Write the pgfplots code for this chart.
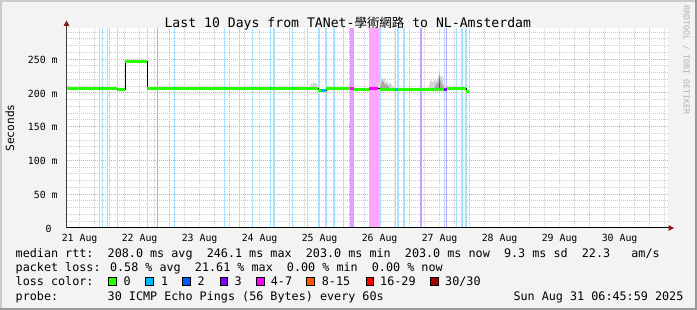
\documentclass[border=0pt]{standalone}
\usepackage{pgfplots}
\pgfplotsset{compat=1.18}
\usepackage{fontspec}
\setmainfont{DejaVu Sans Mono}
\newfontfamily\cjk{Noto Sans CJK TC}
\definecolor{bg}{HTML}{F3F3F3}
\definecolor{shadea}{HTML}{CBCBCB}
\definecolor{shadeb}{HTML}{999999}
\definecolor{arrowc}{HTML}{8B1A1A}
\definecolor{mgrid}{HTML}{EBA0A0}
\definecolor{mingrid}{HTML}{CDCDCD}
\definecolor{loss0}{HTML}{26FF00}
\definecolor{loss1}{HTML}{00B8FF}
\definecolor{loss2}{HTML}{0059FF}
\definecolor{loss3}{HTML}{7E00FF}
\definecolor{loss4}{HTML}{FF00FF}
\definecolor{loss8}{HTML}{FF5500}
\definecolor{loss16}{HTML}{FF0000}
\definecolor{loss30}{HTML}{A10000}
\definecolor{bgone}{HTML}{A6E2FF}
\definecolor{bgtwo}{HTML}{99AAFF}
\definecolor{bgthree}{HTML}{C8A0FF}
\definecolor{bgviolet}{HTML}{E0A0FF}
\definecolor{bgfour}{HTML}{FFA6FF}
\definecolor{smokel}{HTML}{D4D4D4}
\definecolor{smokem}{HTML}{A8A8A8}
\definecolor{smoked}{HTML}{555555}
\begin{document}
\begin{tikzpicture}
\path[use as bounding box, fill=bg] (0bp,0bp) rectangle (697bp,310bp);
\fill[shadea] (0bp,308bp) rectangle (697bp,310bp);
\fill[shadea] (0bp,0bp) rectangle (2bp,310bp);
\fill[shadeb] (0bp,0bp) rectangle (697bp,2bp);
\fill[shadeb] (695bp,0bp) rectangle (697bp,310bp);
\begin{axis}[
  at={(66.5bp,82bp)}, anchor=south west,
  scale only axis, width=601bp, height=200bp,
  xmin=0.2819, xmax=10.2986, ymin=0, ymax=296,
  axis line style={draw=none},
  axis background/.style={fill=white},
  major tick length=0pt, minor tick length=0pt,
  xtick={1,2,3,4,5,6,7,8,9,10},
  xticklabels={21 Aug,22 Aug,23 Aug,24 Aug,25 Aug,26 Aug,27 Aug,28 Aug,29 Aug,30 Aug},
  minor xtick={0.5,0.75,1.25,1.5,1.75,2.25,2.5,2.75,3.25,3.5,3.75,4.25,4.5,4.75,5.25,5.5,5.75,6.25,6.5,6.75,7.25,7.5,7.75,8.25,8.5,8.75,9.25,9.5,9.75,10.25},
  ytick={0,50,100,150,200,250},
  yticklabels={0~~,50 m,100 m,150 m,200 m,250 m},
  minor ytick={10,20,30,40,60,70,80,90,110,120,130,140,160,170,180,190,210,220,230,240,260,270,280,290},
  grid=both,
  major grid style={mgrid, line width=1bp, dash pattern=on 1bp off 1bp},
  minor grid style={mingrid, line width=1bp, dash pattern=on 1bp off 1bp},
  xticklabel style={font=\fontsize{9.9}{11}\selectfont, anchor=base, inner sep=0pt, xshift=-30bp, yshift=-13.7bp},
  yticklabel style={font=\fontsize{9.9}{11}\selectfont, anchor=base east, inner sep=0pt, xshift=-8.7bp, yshift=-4.2bp},
  unbounded coords=jump,
]
% loss background lines
\addplot[ycomb, mark=none, draw=bgone, line width=1.2bp] coordinates {
 (0.8286,296)(0.8786,296)(0.9619,296)(1.1286,296)(1.6286,296)(2.0786,296)
 (2.9119,296)(3.1619,296)(3.3786,296)(3.6853,296)(3.7403,296)(4.0519,296)
 (4.2953,296)(4.4903,296)(4.7403,296)(4.8953,296)(5.5069,296)
 (5.7653,296)(5.8069,296)(5.9069,296)(6.5819,296)(6.7853,296)(6.8736,296)(6.9403,296)};
\addplot[ycomb, mark=none, draw=bgone, line width=2bp] coordinates {(4.6069,296)};
\addplot[ycomb, mark=none, draw=bgtwo, line width=1.2bp] coordinates {(1.7953,296)};
\addplot[ycomb, mark=none, draw=bgthree, line width=1.3bp] coordinates {(6.1903,296)(6.6103,296)};
\addplot[ycomb, mark=none, draw=bgviolet, line width=4bp] coordinates {(5.0403,296)};
\addplot[ycomb, mark=none, draw=bgfour, line width=10.3bp] coordinates {(5.4094,296)};
% smoke
\addplot[fill=smokel, draw=none] coordinates {(0.30,207)(0.31,212)(0.33,209)(0.34,207)} -- cycle;
\addplot[fill=smokel, draw=none] coordinates {(4.31,206)(4.33,210)(4.36,214)(4.38,212)(4.40,217)(4.42,213)(4.45,215)(4.47,210)(4.50,208)(4.50,205)} -- cycle;
\addplot[fill=smokel, draw=none] coordinates {(5.45,206)(5.46,218)(5.48,213)(5.50,222)(5.52,215)(5.54,226)(5.56,216)(5.58,223)(5.60,214)(5.62,219)(5.65,212)(5.68,216)(5.71,210)(5.73,208)(5.73,205)} -- cycle;
\addplot[fill=smokem, draw=none] coordinates {(5.50,206)(5.53,214)(5.55,219)(5.58,213)(5.62,212)(5.66,209)(5.66,206)} -- cycle;
\addplot[fill=smokel, draw=none] coordinates {(6.31,206)(6.33,214)(6.36,219)(6.39,215)(6.42,220)(6.45,217)(6.48,224)(6.50,231)(6.52,222)(6.55,226)(6.57,214)(6.60,211)(6.62,206)} -- cycle;
\addplot[fill=smokem, draw=none] coordinates {(6.40,206)(6.44,212)(6.48,216)(6.50,222)(6.53,215)(6.56,210)(6.58,206)} -- cycle;
\addplot[fill=smoked, draw=none] coordinates {(6.492,207)(6.50,231)(6.508,207)} -- cycle;
% median (transitions)
\addplot[const plot, mark=none, black, line width=1bp] coordinates {
 (0.2819,207)(1.1236,205.5)(1.2569,246)(1.6236,207)(4.4736,203)(4.6069,207)
 (5.0736,205.5)(5.3236,207)(5.5069,205.5)(6.6153,206)(6.9403,202)(6.9903,202)};
\addplot[mark=none, loss0, line width=2.8bp] coordinates {
 (0.2819,207)(1.1236,207)(1.1236,nan)
 (1.1236,205.5)(1.2569,205.5)(1.2569,nan)
 (1.2569,246)(1.6236,246)(1.6236,nan)
 (1.6236,207)(4.4736,207)(4.4736,nan)
 (4.4736,203)(4.5236,203)(4.5236,nan)
 (4.6069,207)(5.0069,207)(5.0069,nan)
 (5.0736,205.5)(5.3236,205.5)(5.3236,nan)
 (5.5069,205.5)(5.7569,205.5)(5.7569,nan)
 (5.8069,205.5)(6.5736,205.5)(6.5736,nan)
 (6.6153,206)(6.9403,206)(6.9403,nan)
 (6.9403,202)(6.9903,202)};
\addplot[mark=none, loss1, line width=2.8bp] coordinates {
 (4.5236,203)(4.6069,203)(4.6069,nan)
 (5.7569,205.5)(5.8069,205.5)(5.8069,nan)
 (0.82,207)(0.84,207)(0.84,nan)
 (1.12,205.5)(1.135,205.5)};
\addplot[mark=none, loss4, line width=2.8bp] coordinates {
 (5.0069,207)(5.0736,207)(5.0736,nan)
 (5.3236,207)(5.4800,207)};
\addplot[mark=none, loss3, line width=2.8bp] coordinates {(6.5736,205.5)(6.6153,205.5)};
\end{axis}
% axis lines and arrows
\draw[black!75, line width=1bp] (66.5bp,82bp) -- (66.5bp,284.5bp);
\fill[arrowc] (63.5bp,284bp) -- (69.5bp,284bp) -- (66.5bp,289.5bp) -- cycle;
\draw[black, line width=1bp] (66.5bp,82bp) -- (669bp,82bp);
\fill[arrowc] (668.5bp,79bp) -- (668.5bp,85bp) -- (674bp,82bp) -- cycle;
% title
\node[anchor=base, inner sep=0pt, font=\fontsize{13.2}{15}\selectfont] at (347.8bp,282.7bp)
  {Last 10 Days from TANet-{\cjk\fontsize{12.5}{14}\selectfont 學術網路} to NL-Amsterdam};
% watermark
\node[rotate=-90, anchor=base west, inner sep=0pt, text=black!30, font=\fontsize{8.3}{9}\selectfont] at (683.5bp,305bp) {RRDTOOL / TOBI OETIKER};
% y label
\node[rotate=90, anchor=center, inner sep=0pt, font=\fontsize{11.3}{12}\selectfont] at (10bp,182bp) {Seconds};
% legend
\begin{scope}[every node/.style={anchor=base west, inner sep=0pt, font=\fontsize{11.8}{13}\selectfont}]
\node at (15.5bp,52.7bp) {median rtt:~~208.0 ms avg~~246.1 ms max~~203.0 ms min~~203.0 ms now~~9.3 ms sd~~22.3~~~am/s};
\node at (15.5bp,38.3bp) {packet loss: 0.58 \% avg~~21.61 \% max~~0.00 \% min~~0.00 \% now};
\node at (15.5bp,24.3bp) {loss color:};
\node at (15.5bp,10bp) {probe:~~~~~~~30 ICMP Echo Pings (56 Bytes) every 60s};
\node at (513.3bp,10bp) {Sun Aug 31 06:45:59 2025};
\node at (123.3bp,24.3bp) {0};
\node at (161bp,24.3bp) {1};
\node at (197.3bp,24.3bp) {2};
\node at (234.3bp,24.3bp) {3};
\node at (270.7bp,24.3bp) {4-7};
\node at (321.7bp,24.3bp) {8-15};
\node at (380bp,24.3bp) {16-29};
\node at (445bp,24.3bp) {30/30};
\end{scope}
\foreach \bx/\bc in {108.3/loss0,145.7/loss1,182.7/loss2,220/loss3,256.7/loss4,306.7/loss8,366/loss16,430.7/loss30}
  \filldraw[fill=\bc, draw=black, line width=0.8bp] (\bx bp,24.6bp) rectangle ++(7.6bp,8bp);
\end{tikzpicture}
\end{document}
